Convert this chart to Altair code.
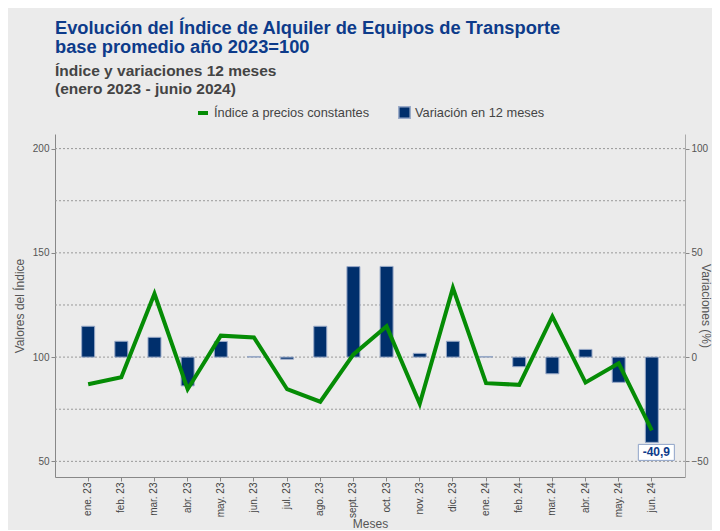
import altair as alt
import pandas as pd

meses = ["ene. 23", "feb. 23", "mar. 23", "abr. 23", "may. 23", "jun. 23",
         "jul. 23", "ago. 23", "sept. 23", "oct. 23", "nov. 23", "dic. 23",
         "ene. 24", "feb. 24", "mar. 24", "abr. 24", "may. 24", "jun. 24"]
indice = [87.0, 90.3, 130.4, 84.6, 110.3, 109.4, 84.6, 78.6, 101.3, 114.8, 77.6, 133.2,
          87.5, 86.7, 119.5, 87.8, 97.0, 64.9]
variacion = [14.8, 7.6, 9.5, -13.8, 7.5, 0.3, -1.0, 14.8, 43.4, 43.5, 1.8, 7.6,
             0.3, -4.6, -8.0, 3.7, -12.1, -40.9]
grid_vals = [50, 75, 100, 125, 150, 175, 200]
left_ticks = [50, 100, 150, 200]
right_ticks = [-50, 0, 50, 100]
etiqueta_mes = "jun. 24"

serie_linea = "Índice a precios constantes"
serie_barra = "Variación en 12 meses"

df = pd.DataFrame({"mes": meses, "indice": indice, "variacion": variacion})
df["s1"] = serie_linea
df["s2"] = serie_barra
grid_df = pd.DataFrame({"g": grid_vals})
lab_df = df[df["mes"] == etiqueta_mes].copy()
lab_df["label"] = lab_df["variacion"].map(lambda v: f"{v:.1f}".replace(".", ","))

FONT = "Liberation Sans"
left_scale = alt.Scale(domain=[42.5, 207], nice=False, zero=False)
right_scale = alt.Scale(domain=[-57.5, 107], nice=False, zero=False)

x_enc = alt.X("mes:N", sort=meses,
              scale=alt.Scale(paddingInner=0, paddingOuter=0.5),
              axis=alt.Axis(title="Meses", labelAngle=-90, labelFontSize=10,
                            labelColor="#444", labelFont=FONT, tickColor="#888",
                            tickSize=4, domainColor="#888", titleFontSize=12,
                            titleFont=FONT, titleFontWeight="normal",
                            titleColor="#555", titlePadding=1, labelPadding=1))

grid = alt.Chart(grid_df).mark_rule(color="#999", strokeDash=[2, 2], strokeWidth=1).encode(
    y=alt.Y("g:Q", scale=left_scale, axis=None))

bars = alt.Chart(df).mark_bar(size=13, stroke="#9AAAC8", strokeWidth=1).encode(
    x=x_enc,
    y=alt.Y("variacion:Q", scale=right_scale,
            axis=alt.Axis(orient="right", values=right_ticks, title="Variaciones (%)",
                          grid=False, labelFontSize=10, labelColor="#555", labelFont=FONT,
                          tickColor="#888", tickSize=4, domainColor="#aaa",
                          titleFontSize=12, titleFont=FONT, titleFontWeight="normal",
                          titleColor="#555", titlePadding=-9)),
    fill=alt.Fill("s2:N", scale=alt.Scale(domain=[serie_barra], range=["#002F6C"]),
                  legend=alt.Legend(title=None, orient="none", legendX=343, legendY=-28,
                                    symbolType="square", symbolSize=130,
                                    labelFontSize=12.8, labelColor="#444", labelFont=FONT)))

line = alt.Chart(df).mark_line(strokeWidth=4).encode(
    x=x_enc,
    y=alt.Y("indice:Q", scale=left_scale,
            axis=alt.Axis(orient="left", values=left_ticks, title="Valores del Índice",
                          grid=False, labelFontSize=10, labelColor="#555", labelFont=FONT,
                          tickColor="#888", tickSize=4, domainColor="#888",
                          titleFontSize=12, titleFont=FONT, titleFontWeight="normal",
                          titleColor="#555", titlePadding=6)),
    color=alt.Color("s1:N", scale=alt.Scale(domain=[serie_linea], range=["#058C05"]),
                    legend=alt.Legend(title=None, orient="none", legendX=141, legendY=-28,
                                      symbolType="stroke", symbolSize=100,
                                      symbolStrokeWidth=4,
                                      labelFontSize=12.8, labelColor="#444", labelFont=FONT)))

box = alt.Chart(lab_df).mark_point(
    shape="M-1.35,0.2L2.25,0.2L2.25,1.8L-1.35,1.8Z", size=400, filled=True,
    fill="white", stroke="#8FA3C8", strokeWidth=1, opacity=1).encode(
    x=x_enc, y=alt.Y("variacion:Q", scale=right_scale, axis=None))

text = alt.Chart(lab_df).mark_text(
    font=FONT, fontSize=12, fontWeight="bold", color="#0D3B8A",
    dx=4.5, dy=10, align="center", baseline="middle").encode(
    x=x_enc, y=alt.Y("variacion:Q", scale=right_scale, axis=None), text="label:N")

chart = alt.layer(grid, bars, line, box, text).resolve_scale(
    y="independent", color="independent", fill="independent"
).properties(
    width=630, height=343,
    background="#EBEBEB",
    padding={"left": 5, "top": 11, "right": 0, "bottom": 0},
    title=alt.TitleParams(
        text=["Evolución del Índice de Alquiler de Equipos de Transporte",
              "base promedio año 2023=100"],
        subtitle=["Índice y variaciones 12 meses", "(enero 2023 - junio 2024)"],
        anchor="start", frame="group", font=FONT, fontSize=18.3, fontWeight="bold",
        color="#0D3B8A", lineHeight=19, subtitleFont=FONT, subtitleFontSize=15.5,
        subtitleFontWeight="bold", subtitleColor="#444", subtitleLineHeight=18,
        subtitlePadding=6, offset=8)
).configure_view(stroke=None)

chart.save("out.html", embed_options={"renderer": "svg", "actions": False})
